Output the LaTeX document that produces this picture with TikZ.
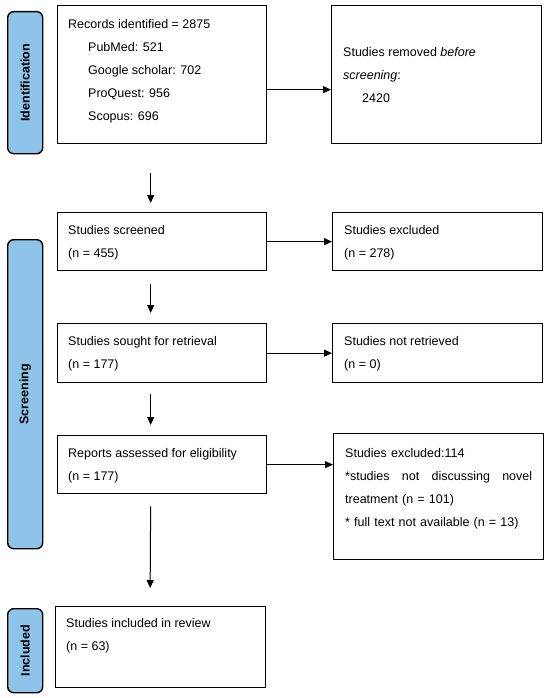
\documentclass[tikz,border=0pt]{standalone}
\usepackage{fontspec}
\setmainfont{Liberation Sans}
\usetikzlibrary{arrows.meta}
\definecolor{barblue}{RGB}{143,196,234}

\begin{document}
\begin{tikzpicture}[x=1pt,y=-1pt,
  box/.style={draw,line width=1.3pt,anchor=north west,inner sep=0pt},
  txt/.style={anchor=north west,inner sep=0pt,align=left,font=\fontsize{12.5}{23}\selectfont},
  bar/.style={draw,line width=1.4pt,fill=barblue,rounded corners=6pt,anchor=north west,inner sep=0pt,minimum width=35pt},
  barlbl/.style={rotate=90,font=\fontsize{12.5}{15}\selectfont\bfseries},
  arr/.style={line width=1pt,-{Triangle[length=8pt,width=7pt]}}]
\useasboundingbox (0,0) rectangle (550,698);
% side bars
\node[bar,minimum height=142pt] (bid) at (7,11) {};
\node[barlbl] (lid) at (bid.center) {Identification};
\node[bar,minimum height=309pt] (bsc) at (7,239) {};
\node[barlbl] (lsc) at (bsc.center) {Screening};
\node[bar,minimum height=84pt] (bin) at (7,608) {};
\node[barlbl] (lin) at (bin.center) {Included};
% boxes
\node[box,minimum width=209pt,minimum height=138pt] (rec) at (57,5) {};
\node[txt] (trec) at (68,19) {Records identified = 2875\\
  \hspace*{20pt}PubMed: 521\\
  \hspace*{20pt}Google scholar: 702\\
  \hspace*{20pt}ProQuest: 956\\
  \hspace*{20pt}Scopus: 696};
\node[box,minimum width=210pt,minimum height=138pt] (rem) at (331,5) {};
\node[txt] (trem) at (343,47) {Studies removed \textit{before}\\
  \textit{screening}:\\
  \hspace*{19pt}2420};
\node[box,minimum width=209pt,minimum height=58pt] (scr) at (57,212) {};
\node[txt] (tscr) at (68,225) {Studies screened\\(n = 455)};
\node[box,minimum width=210pt,minimum height=58pt] (exa) at (332,212) {};
\node[txt] (texa) at (344,225) {Studies excluded\\(n = 278)};
\node[box,minimum width=209pt,minimum height=59pt] (sgt) at (57,323) {};
\node[txt] (tsgt) at (68,336) {Studies sought for retrieval\\(n = 177)};
\node[box,minimum width=210pt,minimum height=59pt] (nrt) at (332,323) {};
\node[txt] (tnrt) at (344,336) {Studies not retrieved\\(n = 0)};
\node[box,minimum width=209pt,minimum height=58pt] (rep) at (57,435) {};
\node[txt] (trep) at (68,448) {Reports assessed for eligibility\\(n = 177)};
\node[box,minimum width=210pt,minimum height=126pt] (exb) at (333,433) {};
\node[txt,text width=187pt] (texb) at (345,448) {Studies excluded:114\\
  {*}studies\hfill not\hfill discussing\hfill novel\\
  treatment (n = 101)\\
  {*} full text not available (n = 13)};
\node[box,minimum width=210pt,minimum height=81pt] (inc) at (55,606) {};
\node[txt] (tinc) at (66,618) {Studies included in review\\(n = 63)};
% arrows
\draw[arr] ([yshift=-15pt]rec.east) -- ([yshift=-15pt]rem.west);
\draw[arr] (scr.east) -- (exa.west |- scr.east);
\draw[arr] (sgt.east) -- (nrt.west |- sgt.east);
\draw[arr] (rep.east) -- (exb.west |- rep.east);
\draw[arr] ([xshift=-11.5pt,yshift=-29pt]rec.south) -- ([xshift=-11.5pt,yshift=9pt]scr.north);
\draw[arr] ([xshift=-11.5pt,yshift=-13pt]scr.south) -- ([xshift=-11.5pt,yshift=10pt]sgt.north);
\draw[arr] ([xshift=-11.5pt,yshift=-11pt]sgt.south) -- ([xshift=-11.5pt,yshift=10pt]rep.north);
\draw[arr] ([xshift=-11.5pt,yshift=-12pt]rep.south) -- ([xshift=-10.5pt,yshift=18pt]inc.north);
\end{tikzpicture}
\end{document}
